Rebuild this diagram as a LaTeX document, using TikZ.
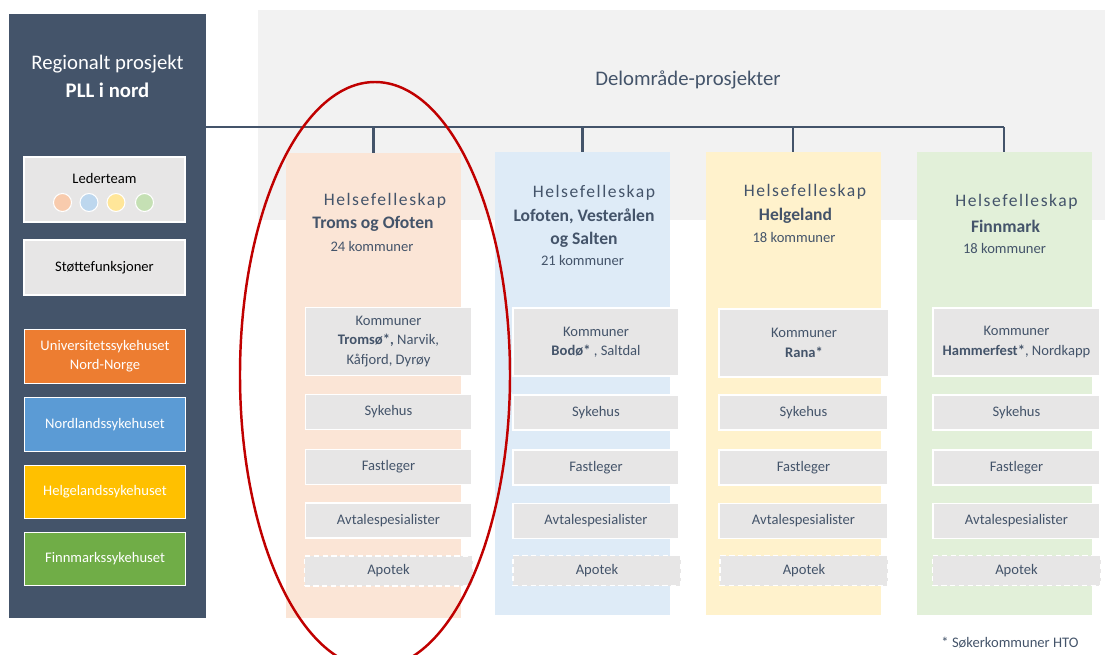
\documentclass[tikz,border=0pt]{standalone}
\usepackage{fontspec}
\setmainfont{Carlito}

\definecolor{slate}{HTML}{44546A}
\definecolor{boxgray}{HTML}{E7E6E6}
\definecolor{bggray}{HTML}{F2F2F2}
\definecolor{colpeach}{HTML}{FBE5D6}
\definecolor{colblue}{HTML}{DEEBF7}
\definecolor{colyellow}{HTML}{FFF2CC}
\definecolor{colgreen}{HTML}{E2F0D9}
\definecolor{dotpeach}{HTML}{F8CBAD}
\definecolor{dotblue}{HTML}{BDD7EE}
\definecolor{dotyellow}{HTML}{FFE699}
\definecolor{dotgreen}{HTML}{C5E0B4}
\definecolor{unn}{HTML}{ED7D31}
\definecolor{nlsh}{HTML}{5B9BD5}
\definecolor{hlsh}{HTML}{FFC000}
\definecolor{fsh}{HTML}{70AD47}
\definecolor{ringred}{HTML}{C00000}

\newcommand\fsmall{\fontsize{8.3}{11}\selectfont}
\newcommand\fhead{\fontsize{10}{12.7}\selectfont}
\newcommand\fspaced{\fontsize{10}{12}\selectfont\addfontfeature{LetterSpace=9}}
\newcommand\ftitle{\fontsize{11.8}{15.9}\selectfont}

\begin{document}
\begin{tikzpicture}[
  every node/.style={inner sep=0pt, align=center},
  panel/.style={fill=slate, minimum width=3.94cm, minimum height=12.08cm},
  leftbox/.style={draw=white, line width=0.8pt, minimum width=3.22cm, minimum height=1.07cm, text=white, font=\fsmall},
  greybox/.style={leftbox, fill=boxgray, text=black},
  dot/.style={circle, draw=white, line width=0.6pt, minimum size=0.36cm},
  column/.style={minimum width=3.5cm, minimum height=9.26cm},
  innerbox/.style={fill=boxgray, draw=white, line width=0.9pt, minimum width=3.32cm, minimum height=0.70cm, text=slate, font=\fsmall},
  apotekbox/.style={innerbox, dash pattern=on 3pt off 2pt, minimum height=0.60cm, minimum width=3.36cm},
  hf/.style={text=slate, font=\fspaced},
  navn/.style={text=slate, font=\fhead\bfseries},
  antall/.style={text=slate, font=\fsmall},
  bus/.style={draw=slate, line width=1.3pt},
  ring/.style={draw=ringred, line width=1.4pt}
]
  \useasboundingbox (0,0) rectangle (22.1,-13.1);
  \clip (0,0) rectangle (22.1,-13.1);

  % regional project
  \node[panel] (panel) at (2.15,-6.32) {};
  \node[text=white, font=\ftitle] (title) at (2.15,-1.52) {Regionalt prosjekt\\\textbf{PLL i nord}};
  \node[greybox, minimum height=1.30cm] (leder) at (2.09,-3.79) {};
  \node[font=\fsmall] (ledertxt) at (2.09,-3.56) {Lederteam};
  \node[dot, fill=dotpeach] (d1) at (1.25,-4.05) {};
  \node[dot, fill=dotblue] (d2) at (1.78,-4.05) {};
  \node[dot, fill=dotyellow] (d3) at (2.32,-4.05) {};
  \node[dot, fill=dotgreen] (d4) at (2.89,-4.05) {};
  \node[greybox, minimum height=1.10cm] (stotte) at (2.09,-5.35) {Støttefunksjoner};
  \node[leftbox, fill=unn] (unn) at (2.10,-7.13) {Universitetssykehuset\\Nord-Norge};
  \node[leftbox, fill=nlsh] (nlsh) at (2.10,-8.49) {Nordlandssykehuset};
  \node[leftbox, fill=hlsh] (hlsh) at (2.10,-9.84) {Helgelandssykehuset};
  \node[leftbox, fill=fsh] (fsh) at (2.10,-11.18) {Finnmarkssykehuset};

  % sub-area projects
  \node[fill=bggray, minimum width=16.94cm, minimum height=4.20cm] (bg) at (13.63,-2.30) {};
  \node[text=slate, font=\ftitle] (delomr) at (13.76,-1.60) {Delområde-prosjekter};

  \node[column, fill=colpeach, minimum height=9.30cm] (col1) at (7.47,-7.71) {};
  \node[column, fill=colblue] (col2) at (11.65,-7.67) {};
  \node[column, fill=colyellow] (col3) at (15.86,-7.67) {};
  \node[column, fill=colgreen] (col4) at (20.08,-7.67) {};

  \coordinate (bus) at (0,-2.54);
  \draw[bus] (panel.east |- bus) -- (col4.north |- bus);
  \draw[bus] (col1.north |- bus) -- (col1.north);
  \draw[bus] (col2.north |- bus) -- (col2.north);
  \draw[bus] (col3.north |- bus) -- (col3.north);
  \draw[bus] (col4.north |- bus) -- (col4.north);

  \node[hf] (hf1) at (7.70,-4.02) {Helsefelleskap};
  \node[navn] (navn1) at (7.46,-4.48) {Troms og Ofoten};
  \node[antall] (ant1) at (7.44,-4.92) {24 kommuner};
  \node[hf] (hf2) at (11.88,-3.85) {Helsefelleskap};
  \node[navn] (navn2) at (11.68,-4.56) {Lofoten, Vesterålen\\og Salten};
  \node[antall] (ant2) at (11.65,-5.20) {21 kommuner};
  \node[hf] (hf3) at (16.10,-3.83) {Helsefelleskap};
  \node[navn] (navn3) at (15.91,-4.32) {Helgeland};
  \node[antall] (ant3) at (15.88,-4.75) {18 kommuner};
  \node[hf] (hf4) at (20.33,-4.03) {Helsefelleskap};
  \node[navn] (navn4) at (20.11,-4.52) {Finnmark};
  \node[antall] (ant4) at (20.09,-4.97) {18 kommuner};

  \node[innerbox, minimum height=1.36cm] (kom1) at (7.77,-6.83) {Kommuner\\\textbf{Tromsø*,} Narvik,\\Kåfjord, Dyrøy};
  \node[innerbox] (syk1) at (7.77,-8.24) {Sykehus};
  \node[innerbox] (fast1) at (7.77,-9.34) {Fastleger};
  \node[innerbox] (avt1) at (7.77,-10.41) {Avtalespesialister};
  \node[apotekbox] (apo1) at (7.77,-11.42) {Apotek};

  \node[innerbox, minimum height=1.36cm] (kom2) at (11.92,-6.84) {Kommuner\\\textbf{Bodø*} , Saltdal};
  \node[innerbox] (syk2) at (11.92,-8.25) {Sykehus};
  \node[innerbox] (fast2) at (11.92,-9.35) {Fastleger};
  \node[innerbox] (avt2) at (11.92,-10.42) {Avtalespesialister};
  \node[apotekbox] (apo2) at (11.94,-11.41) {Apotek};

  \node[innerbox, minimum height=1.36cm, minimum width=3.40cm] (kom3) at (16.08,-6.86) {Kommuner\\\textbf{Rana*}};
  \node[innerbox, minimum width=3.38cm] (syk3) at (16.07,-8.25) {Sykehus};
  \node[innerbox, minimum width=3.38cm] (fast3) at (16.07,-9.35) {Fastleger};
  \node[innerbox, minimum width=3.38cm] (avt3) at (16.07,-10.42) {Avtalespesialister};
  \node[apotekbox] (apo3) at (16.08,-11.41) {Apotek};

  \node[innerbox, minimum height=1.36cm, minimum width=3.34cm] (kom4) at (20.33,-6.84) {Kommuner\\\textbf{Hammerfest*}, Nordkapp};
  \node[innerbox, minimum width=3.34cm] (syk4) at (20.33,-8.25) {Sykehus};
  \node[innerbox, minimum width=3.34cm] (fast4) at (20.33,-9.35) {Fastleger};
  \node[innerbox, minimum width=3.34cm] (avt4) at (20.33,-10.42) {Avtalespesialister};
  \node[apotekbox] (apo4) at (20.33,-11.41) {Apotek};

  \node[text=slate, font=\fsmall] (note) at (20.20,-12.86) {* Søkerkommuner HTO};

  % highlight
  \draw[ring] (7.50,-7.50) ellipse [x radius=2.70, y radius=5.86];
\end{tikzpicture}
\end{document}
